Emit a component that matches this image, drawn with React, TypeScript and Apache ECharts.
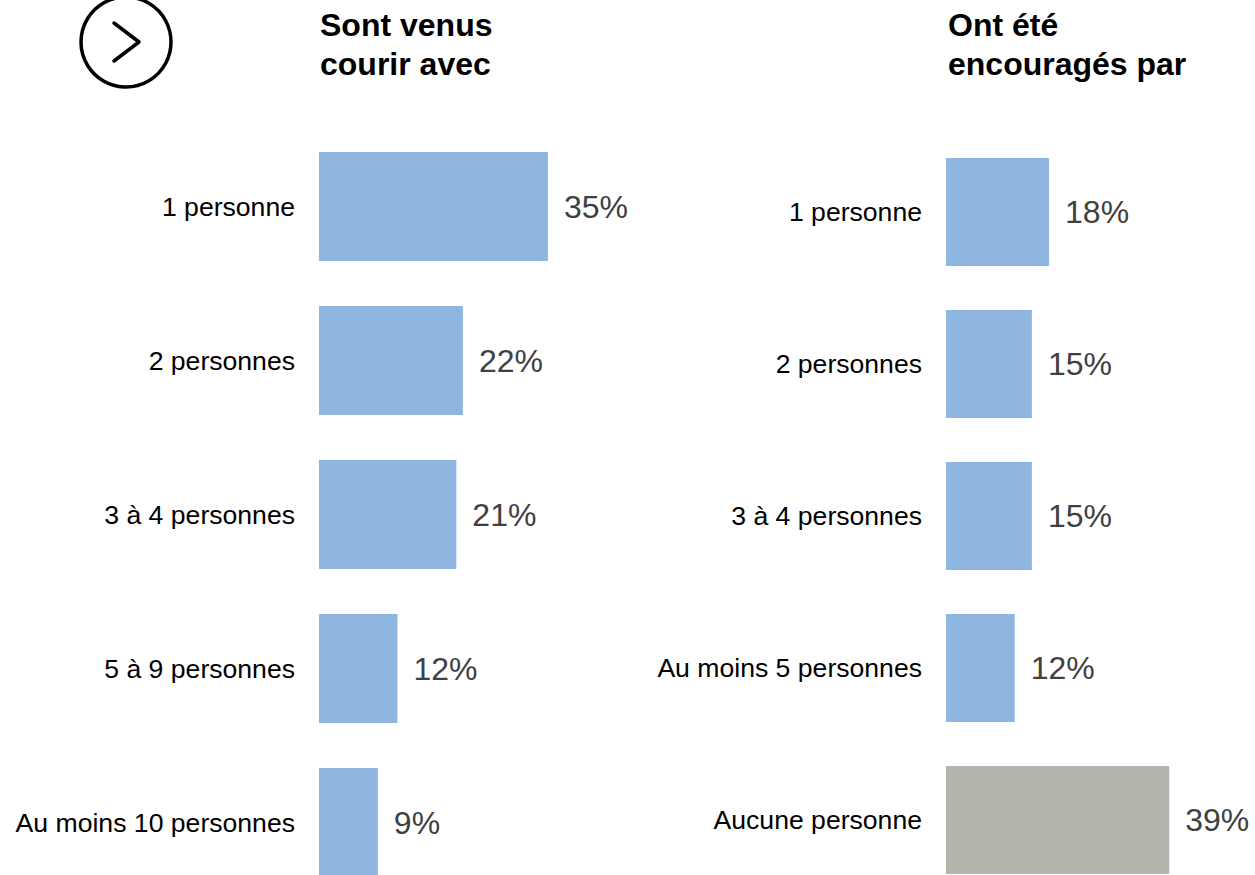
import React, { useEffect, useRef } from "react";
import * as echarts from "echarts";

const leftTitle = "Sont venus\ncourir avec";
const rightTitle = "Ont été\nencouragés par";
const leftCategories = ["1 personne", "2 personnes", "3 à 4 personnes", "5 à 9 personnes", "Au moins 10 personnes"];
const leftValues = [35, 22, 21, 12, 9];
const rightCategories = ["1 personne", "2 personnes", "3 à 4 personnes", "Au moins 5 personnes", "Aucune personne"];
const rightValues = [18, 15, 15, 12, 39];
const rightIsNone = [false, false, false, false, true];

const BLUE = "#8EB6E1";
const GRAY = "#B5B5AD";
const FONT = "'Liberation Sans', Arial, sans-serif";

export default function App() {
  const ref = useRef<HTMLDivElement>(null);
  useEffect(() => {
    const chart = echarts.init(ref.current!, null, { renderer: "svg" });
    const catAxis = (gridIndex: number, data: string[]) => ({
      type: "category",
      gridIndex,
      data,
      inverse: true,
      axisLine: { show: false },
      axisTick: { show: false },
      axisLabel: { color: "#000", fontSize: 26.6, fontFamily: FONT, margin: 24 },
    });
    const valAxis = (gridIndex: number) => ({
      type: "value",
      gridIndex,
      min: 0,
      max: 40,
      show: false,
      splitLine: { show: false },
    });
    const label = {
      show: true,
      position: "right",
      distance: 16,
      formatter: "{c}%",
      color: "#404040",
      fontSize: 32,
      fontFamily: FONT,
    };
    chart.setOption({
      animation: false,
      backgroundColor: "#fff",
      grid: [
        { left: 319, top: 129.5, width: 261.6, height: 770 },
        { left: 946, top: 136, width: 229, height: 760 },
      ],
      xAxis: [valAxis(0), valAxis(1)],
      yAxis: [catAxis(0, leftCategories), catAxis(1, rightCategories)],
      series: [
        {
          type: "bar",
          xAxisIndex: 0,
          yAxisIndex: 0,
          data: leftValues,
          barWidth: 109,
          itemStyle: { color: BLUE },
          label,
        },
        {
          type: "bar",
          xAxisIndex: 1,
          yAxisIndex: 1,
          data: rightValues.map((v, i) => ({
            value: v,
            itemStyle: { color: rightIsNone[i] ? GRAY : BLUE },
          })),
          barWidth: 108,
          label,
        },
      ],
      graphic: [
        {
          type: "circle",
          shape: { cx: 126, cy: 42, r: 45 },
          style: { fill: "none", stroke: "#000", lineWidth: 3.5 },
        },
        {
          type: "polyline",
          shape: { points: [[114, 23], [139, 42], [114, 61]] },
          style: { fill: "none", stroke: "#000", lineWidth: 3.5, lineCap: "round", lineJoin: "round" },
        },
        {
          type: "text",
          x: 320,
          y: 5,
          style: { text: leftTitle, fill: "#000", font: `bold 32px ${FONT}`, lineHeight: 39, verticalAlign: "top" },
        },
        {
          type: "text",
          x: 948,
          y: 5,
          style: { text: rightTitle, fill: "#000", font: `bold 32px ${FONT}`, lineHeight: 39, verticalAlign: "top" },
        },
      ],
    });
    return () => chart.dispose();
  }, []);
  return (
    <div style={{ position: "absolute", left: 0, top: 0, width: 1255, height: 875, overflow: "hidden" }}>
      <div ref={ref} style={{ width: 1255, height: 920 }} />
    </div>
  );
}
